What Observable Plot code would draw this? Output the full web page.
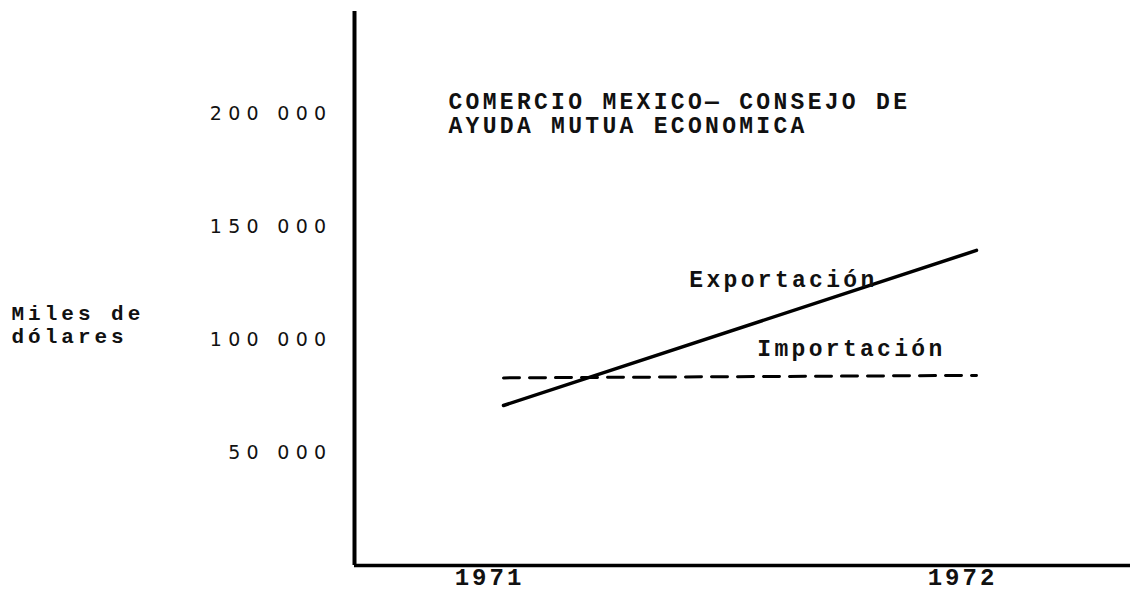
<!DOCTYPE html>
<html>
<head>
<meta charset="utf-8">
<script src="https://cdn.jsdelivr.net/npm/d3@7"></script>
<script src="https://cdn.jsdelivr.net/npm/@observablehq/plot@0.6"></script>
<style>
  html, body { margin: 0; padding: 0; background: #fff; }
  #chart svg { display: block; background: #fff; }
  g[aria-label="y-axis tick label"] text { letter-spacing: 6.3px; }
  g[aria-label="x-axis tick label"] text { letter-spacing: 3px; }
  .tw text { letter-spacing: 3.3px; }
  .tw2 text { letter-spacing: 4px; }
</style>
</head>
<body>
<div id="chart"></div>
<script>
// ---- data ----
const years = [1971, 1972];
const exportacion = [70800, 139400];
const importacion = [83000, 84100];
const seriesNames = ["Exportación", "Importación"];
const yTicks = [50000, 100000, 150000, 200000];
const yTickLabels = ["50 000", "100 000", "150 000", "200 000"];
const xTicks = [1971, 1972];
const xTickLabels = ["1971", "1972"];
const titleLines = ["COMERCIO MEXICO— CONSEJO DE", "AYUDA MUTUA ECONOMICA"];
const yAxisLabel = ["Miles de", "dólares"];

const rows = [];
years.forEach((yr, i) => {
  rows.push({year: yr, value: exportacion[i], serie: seriesNames[0]});
  rows.push({year: yr, value: importacion[i], serie: seriesNames[1]});
});
const expRows = rows.filter(d => d.serie === seriesNames[0]);
const impRows = rows.filter(d => d.serie === seriesNames[1]);

const xDomain = [1970.685, 1972.3256];
const mono = "'Liberation Mono', 'DejaVu Sans Mono', monospace";

const chart = Plot.plot({
  width: 1132,
  height: 592,
  marginLeft: 354,
  marginRight: 2,
  marginTop: 11,
  marginBottom: 27,
  style: {background: "#fff", color: "#111"},
  x: {domain: xDomain},
  y: {domain: [0, 245100]},
  marks: [
    Plot.axisY({
      ticks: yTicks,
      tickFormat: d => yTickLabels[yTicks.indexOf(d)],
      tickSize: 0,
      tickPadding: 22,
      fontFamily: "'DejaVu Sans', sans-serif",
      fontSize: 19,
      fill: "#111",
      label: null
    }),
    Plot.axisX({
      ticks: xTicks,
      tickFormat: d => xTickLabels[xTicks.indexOf(d)],
      tickSize: 0,
      tickPadding: 2,
      dx: -14,
      fontFamily: mono,
      fontSize: 24,
      fontWeight: "bold",
      fill: "#111",
      label: null
    }),
    Plot.ruleX([xDomain[0]], {stroke: "#000", strokeWidth: 4}),
    Plot.ruleY([0], {stroke: "#000", strokeWidth: 3.5}),
    Plot.line(impRows, {x: "year", y: "value", stroke: "#000", strokeWidth: 3, strokeDasharray: "16,10"}),
    Plot.line(expRows, {x: "year", y: "value", stroke: "#000", strokeWidth: 3.5}),
    Plot.text(expRows.slice(-1), {
      x: "year", y: "value", text: "serie",
      textAnchor: "end", dx: -99, dy: 29,
      fontFamily: mono, fontSize: 23, fontWeight: "bold", fill: "#111",
      className: "tw"
    }),
    Plot.text(impRows.slice(-1), {
      x: "year", y: "value", text: "serie",
      textAnchor: "end", dx: -31, dy: -27,
      fontFamily: mono, fontSize: 23, fontWeight: "bold", fill: "#111",
      className: "tw"
    }),
    Plot.text([titleLines.join("\n")], {
      frameAnchor: "top-left", dx: 94, dy: 102,
      textAnchor: "start", lineAnchor: "middle", lineHeight: 1.04,
      fontFamily: mono, fontSize: 23, fontWeight: "bold", fill: "#111",
      className: "tw"
    }),
    Plot.text([yAxisLabel.join("\n")], {
      frameAnchor: "left", dx: -343, dy: 36,
      textAnchor: "start", lineAnchor: "middle", lineHeight: 1.1,
      fontFamily: mono, fontSize: 21, fontWeight: "bold", fill: "#111",
      className: "tw2"
    })
  ]
});
document.getElementById("chart").appendChild(chart);
</script>
</body>
</html>
